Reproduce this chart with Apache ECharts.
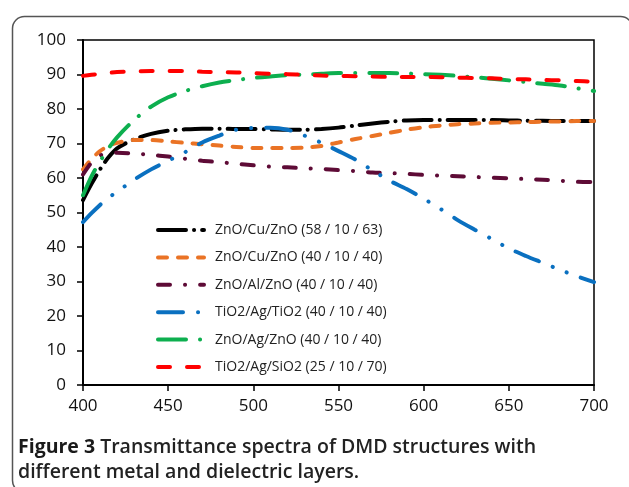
<!DOCTYPE html>
<html>
<head>
<meta charset="utf-8">
<script src="https://cdn.jsdelivr.net/npm/echarts@6/dist/echarts.min.js"></script>
<style>
html,body{margin:0;padding:0;background:#fff;}
#c{width:629px;height:487px;}
</style>
</head>
<body>
<div id="c"></div>
<script>
const wavelengths = [400,405,410,415,420,430,440,450,460,470,480,490,500,510,520,530,540,550,560,570,580,590,600,610,620,630,640,650,660,670,680,690,700];
const seriesNames = [
  'ZnO/Cu/ZnO (58 / 10 / 63)',
  'ZnO/Cu/ZnO (40 / 10 / 40)',
  'ZnO/Al/ZnO (40 / 10 / 40)',
  'TiO2/Ag/TiO2 (40 / 10 / 40)',
  'ZnO/Ag/ZnO (40 / 10 / 40)',
  'TiO2/Ag/SiO2 (25 / 10 / 70)'
];
const znoCuZno58 = [53.6,58.3,62.5,66.0,68.6,71.2,72.8,73.7,74.1,74.3,74.3,74.2,74.2,74.1,74.0,74.0,74.2,74.6,75.2,75.8,76.3,76.7,76.8,76.8,76.8,76.8,76.8,76.7,76.6,76.6,76.5,76.5,76.5];
const znoCuZno40 = [62.5,65.5,67.8,69.3,70.2,71.0,71.0,70.6,70.2,69.8,69.4,69.0,68.7,68.7,68.7,68.8,69.3,70.3,71.3,72.2,73.1,74.0,74.7,75.2,75.6,75.8,76.0,76.1,76.2,76.3,76.4,76.5,76.5];
const znoAlZno = [61.0,64.5,66.5,67.1,67.3,67.1,66.7,66.2,65.6,65.0,64.6,64.1,63.7,63.3,63.1,62.8,62.6,62.3,62.0,61.6,61.4,61.2,60.9,60.7,60.5,60.3,60.1,59.9,59.7,59.5,59.2,58.9,58.8];
const tio2AgTio2 = [47.2,49.8,52.2,54.3,56.0,59.5,62.5,65.0,67.5,70.3,72.3,74.0,74.5,74.6,74.0,72.3,70.2,67.8,65.3,62.2,59.2,56.8,54.0,51.0,47.8,45.0,42.3,39.6,37.4,35.4,33.4,31.5,29.8];
const znoAgZno = [55.0,60.5,64.8,68.6,71.8,76.8,80.7,83.4,85.2,86.6,87.7,88.4,89.0,89.4,89.8,90.0,90.2,90.4,90.4,90.4,90.4,90.3,90.1,89.9,89.6,89.2,88.8,88.3,87.8,87.3,86.8,86.0,85.2];
const tio2AgSio2 = [89.6,89.9,90.2,90.5,90.7,90.9,91.0,91.0,91.0,90.8,90.7,90.6,90.4,90.2,90.1,89.9,89.7,89.6,89.5,89.4,89.3,89.3,89.3,89.2,89.1,89.0,88.9,88.7,88.6,88.4,88.3,88.1,87.9];
const xTicks = [400,450,500,550,600,650,700];
const yTicks = [0,10,20,30,40,50,60,70,80,90,100];
const captionLine1Bold = 'Figure 3';
const captionLine1Rest = ' Transmittance spectra of DMD structures with';
const captionLine2 = 'different metal and dielectric layers.';

const values = [znoCuZno58, znoCuZno40, znoAlZno, tio2AgTio2, znoAgZno, tio2AgSio2];
const colors = ['#000000','#EA7325','#5E0B36','#0A70C0','#0DAF4F','#FF0000'];
const dashes = [[28,8,0.1,8],[9,11],[12,15,0.1,15],[25,15,0.1,15,0.1,15],[28,14,0.1,14],[12,17]];

const chart = echarts.init(document.getElementById('c'), null, {renderer:'canvas'});
const font = '"Open Sans", "Noto Sans", sans-serif';
const series = seriesNames.map((n,i)=>({
  name:n, type:'line', smooth:0.3, symbol:'none', animation:false,
  data: wavelengths.map((w,k)=>[w, values[i][k]]),
  lineStyle:{color:colors[i], width:4, type:dashes[i], cap:'round'},
  itemStyle:{color:colors[i]},
  z: 2+i
}));
chart.setOption({
  animation:false,
  grid:{left:83, right:35, top:40, bottom:102, show:true, borderColor:'#000', borderWidth:1.5},
  xAxis:{type:'value', min:400, max:700, interval:50,
    axisLine:{show:true, lineStyle:{color:'#000', width:2}},
    axisTick:{show:true, length:6, lineStyle:{color:'#000', width:1.5}},
    axisLabel:{color:'#111', fontSize:17, fontFamily:font, margin:13},
    splitLine:{show:false}},
  yAxis:{type:'value', min:0, max:100, interval:10,
    axisLine:{show:true, lineStyle:{color:'#000', width:2}},
    axisTick:{show:true, length:6, lineStyle:{color:'#000', width:1.5}},
    axisLabel:{color:'#111', fontSize:17, fontFamily:font, margin:17},
    splitLine:{show:false}},
  legend:{orient:'vertical', left:151, top:218, itemWidth:46, itemHeight:14, itemGap:13.4,
    data:seriesNames,
    itemStyle:{opacity:0},
    lineStyle:{width:4, cap:'round'},
    textStyle:{fontSize:14, fontFamily:font, color:'#222', padding:[0,0,0,6]}},
  graphic:[
    {type:'rect', left:10, top:14, shape:{x:0,y:0,width:620,height:476,r:12}, style:{fill:'none', stroke:'#555', lineWidth:1.5}, silent:true, z:-1},
    {type:'text', left:18, top:437, style:{rich:{b:{fontWeight:'bold', fontSize:19.5, fontFamily:font, fill:'#1a1a1a'}, s:{fontWeight:600, fontSize:19.5, fontFamily:font, fill:'#222'}}, text:'{b|'+captionLine1Bold+'}{s|'+captionLine1Rest+'}'}},
    {type:'text', left:18, top:462, style:{text:captionLine2, fontWeight:600, fontSize:19.5, fontFamily:font, fill:'#222'}}
  ],
  series:series
});
</script>
</body>
</html>
